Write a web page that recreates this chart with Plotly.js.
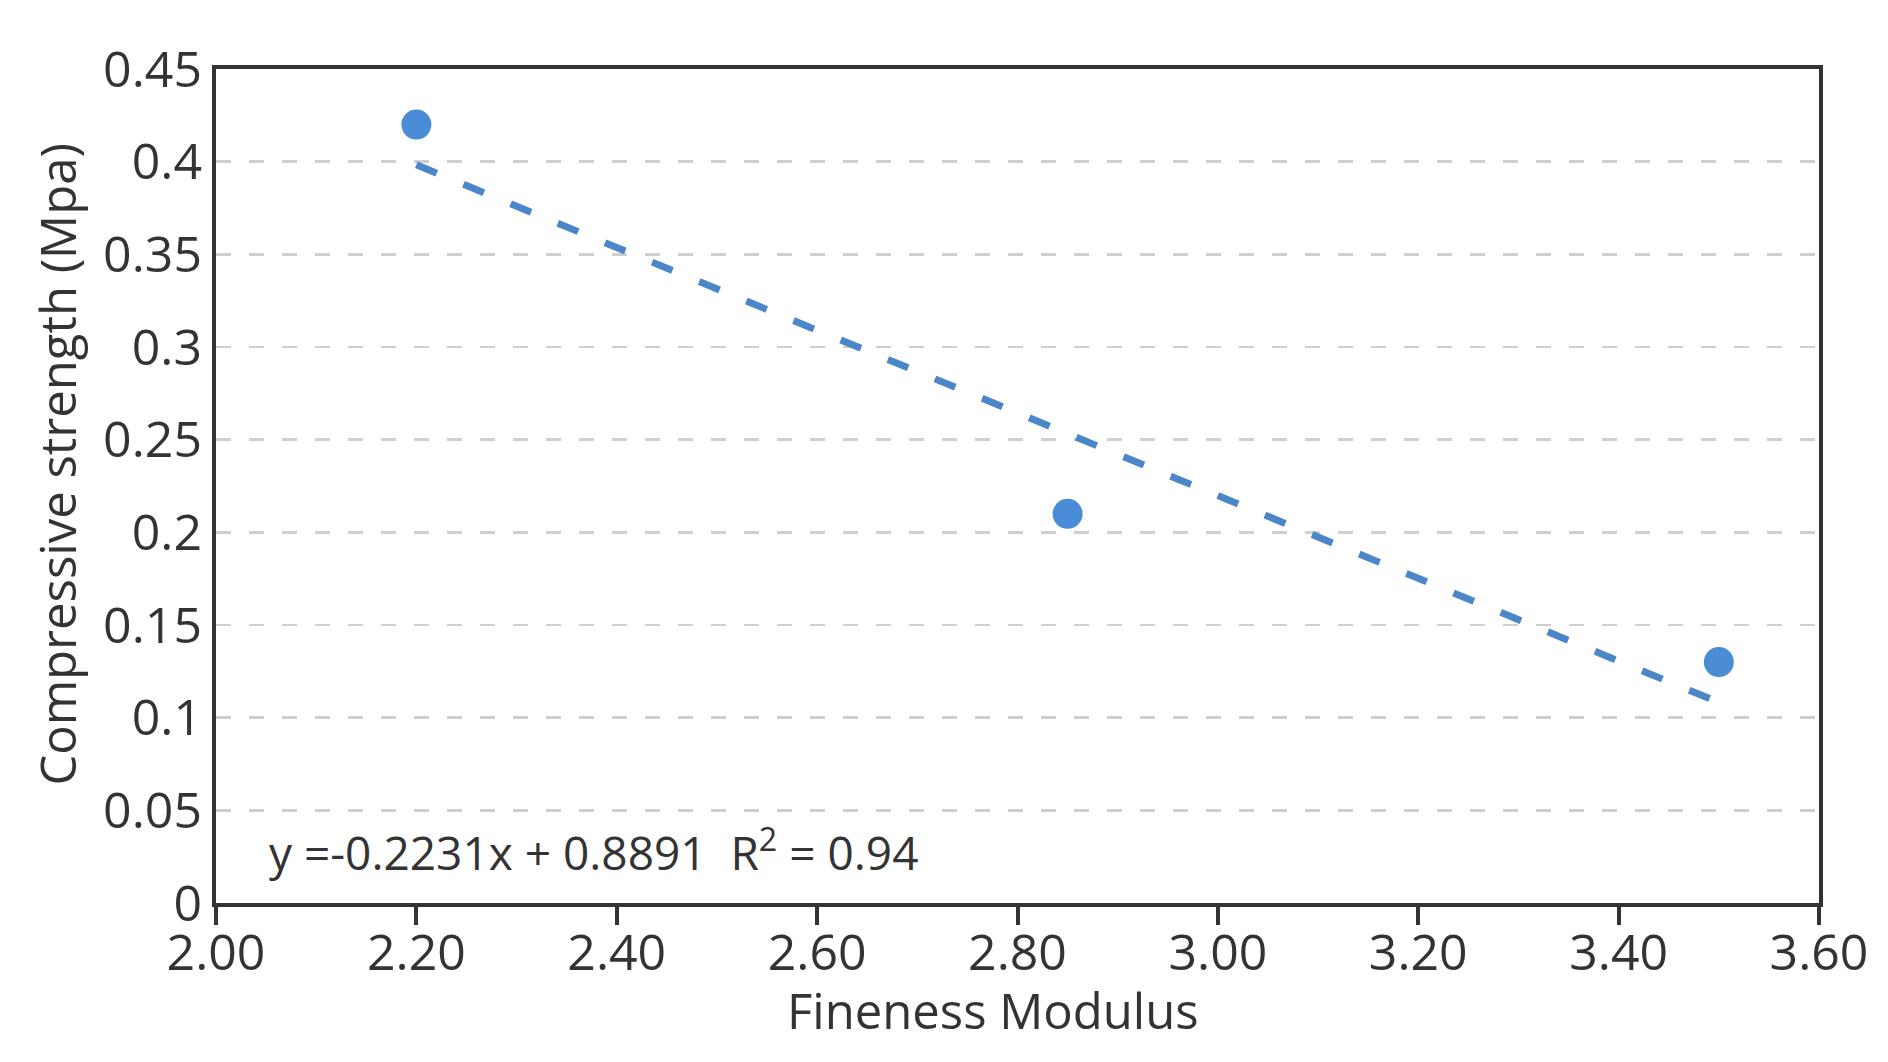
<!DOCTYPE html>
<html>
<head>
<meta charset="utf-8">
<script src="https://cdn.plot.ly/plotly-3.0.1.min.js"></script>
<style>
  html, body { margin: 0; padding: 0; background: #fff; }
  #chart { width: 1888px; height: 1062px; }
</style>
</head>
<body>
<div id="chart"></div>
<script>
// measured points
const finenessModulus = [2.20, 2.85, 3.50];
const compressiveStrength = [0.42, 0.21, 0.13];

// linear trend (Excel fit shown on the chart)
const trendSlope = -0.2231;
const trendIntercept = 0.8891;
const trendR2 = 0.94;
const trendX = [2.20, 3.50];
const trendY = trendX.map(x => trendSlope * x + trendIntercept);

const yTickVals = [0, 0.05, 0.1, 0.15, 0.2, 0.25, 0.3, 0.35, 0.4, 0.45];
const yTickText = ['0', '0.05', '0.1', '0.15', '0.2', '0.25', '0.3', '0.35', '0.4', '0.45'];

const xTitle = 'Fineness Modulus';
const yTitle = 'Compressive strength (Mpa)';

const fontFamily = 'Open Sans, Liberation Sans, sans-serif';
const textColor = '#333333';

var trend = {
    x: trendX,
    y: trendY,
    type: 'scatter',
    mode: 'lines',
    line: { color: '#4a86c8', width: 7, dash: '22px,29px' },
    hoverinfo: 'skip'
};

var points = {
    x: finenessModulus,
    y: compressiveStrength,
    type: 'scatter',
    mode: 'markers',
    marker: { color: '#4a8dd6', size: 30 }
};

var layout = {
    width: 1888,
    height: 1062,
    paper_bgcolor: '#ffffff',
    plot_bgcolor: '#ffffff',
    showlegend: false,
    margin: { l: 216, r: 69, t: 69, b: 159 },
    font: { family: fontFamily, color: textColor },
    xaxis: {
        range: [2.0, 3.6],
        dtick: 0.2,
        tick0: 2.0,
        tickformat: '.2f',
        ticks: 'outside',
        ticklen: 18,
        tickwidth: 4,
        tickcolor: '#333333',
        ticklabelstandoff: -15,
        showgrid: false,
        zeroline: false,
        showline: true,
        linecolor: '#333333',
        linewidth: 4,
        mirror: true,
        tickfont: { size: 50, color: textColor }
    },
    yaxis: {
        range: [0, 0.45],
        tickmode: 'array',
        tickvals: yTickVals,
        ticktext: yTickText,
        ticks: '',
        ticklabelstandoff: 0,
        showgrid: true,
        gridcolor: '#cfcfcf',
        gridwidth: 2.5,
        griddash: '15px,18px',
        zeroline: false,
        showline: true,
        linecolor: '#333333',
        linewidth: 4,
        mirror: true,
        tickfont: { size: 50, color: textColor }
    },
    annotations: [
        {
            // axis titles placed as in the original figure
            xref: 'paper', yref: 'paper',
            x: 0.485, y: -0.128,
            xanchor: 'center', yanchor: 'middle',
            showarrow: false,
            text: xTitle,
            font: { size: 49, color: textColor }
        },
        {
            xref: 'paper', yref: 'paper',
            x: -0.099, y: 0.526,
            xanchor: 'center', yanchor: 'middle',
            textangle: -90,
            showarrow: false,
            text: yTitle,
            font: { size: 49, color: textColor }
        },
        {
            xref: 'paper', yref: 'paper',
            x: 0.032, y: 0.063,
            xanchor: 'left', yanchor: 'middle',
            showarrow: false,
            text: 'y =' + trendSlope + 'x + ' + trendIntercept + '  R<sup>2</sup> = ' + trendR2,
            font: { size: 46, color: textColor }
        }
    ]
};

Plotly.newPlot('chart', [trend, points], layout, { displayModeBar: false, staticPlot: true });
</script>
</body>
</html>
